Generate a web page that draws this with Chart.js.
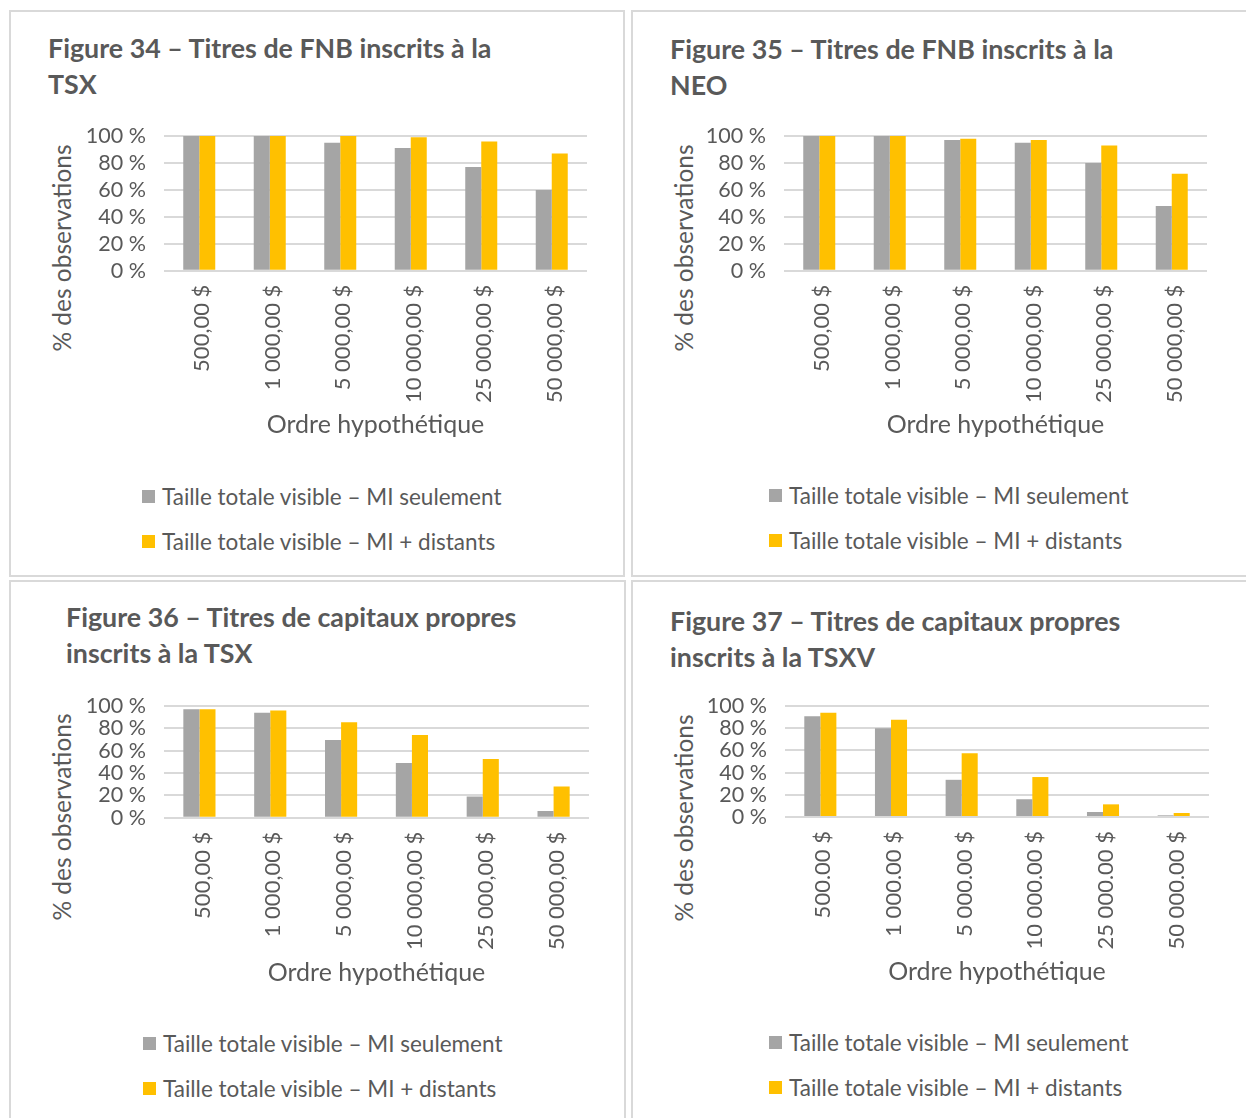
<!DOCTYPE html>
<html><head><meta charset="utf-8">
<script src="https://cdn.jsdelivr.net/npm/chart.js@4/dist/chart.umd.min.js"></script>
<style>
body{margin:0;background:#fff;width:1246px;height:1118px;overflow:hidden;position:relative;font-family:Lato,sans-serif;}
.panel{position:absolute;border:2px solid #d9d9d9;box-sizing:border-box;}
.title{position:absolute;font-weight:bold;color:#595959;font-size:26.8px;line-height:36px;white-space:nowrap;}
.leg{position:absolute;color:#595959;font-size:22.5px;white-space:nowrap;line-height:26px;height:26px;}
.leg .box{position:absolute;left:0;top:6px;width:13px;height:13px;}
.leg .txt{position:absolute;left:20px;top:0;}
.ytitle{position:absolute;color:#595959;font-size:24.5px;white-space:nowrap;line-height:30px;height:30px;width:260px;text-align:center;transform:rotate(-90deg);}
canvas{position:absolute;}
</style></head><body>
<script>
// ---- data ----
const categoriesComma = ['500,00 $','1 000,00 $','5 000,00 $','10 000,00 $','25 000,00 $','50 000,00 $'];
const categoriesDot = ['500.00 $','1 000.00 $','5 000.00 $','10 000.00 $','25 000.00 $','50 000.00 $'];
const yTickValues = [0,20,40,60,80,100];
const yTickLabels = ['0 %','20 %','40 %','60 %','80 %','100 %'];
const seriesNames = ['Taille totale visible – MI seulement','Taille totale visible – MI + distants'];
const xAxisTitle = 'Ordre hypothétique';
const yAxisTitle = '% des observations';

const fig34MiSeulement = [100,100,95,91,77,60];
const fig34MiDistants  = [100,100,100,99,96,87];
const fig35MiSeulement = [100,100,97,95,80,48];
const fig35MiDistants  = [100,100,98,97,93,72];
const fig36MiSeulement = [97,94,69.5,49,19,6];
const fig36MiDistants  = [97,96,85.5,74,52.5,28];
const fig37MiSeulement = [90.7,80,33.5,16,4.5,1.5];
const fig37MiDistants  = [94,87.7,57.5,36,11.4,3.6];

const fig34Title = ['Figure 34 – Titres de FNB inscrits à la','TSX'];
const fig35Title = ['Figure 35 – Titres de FNB inscrits à la','NEO'];
const fig36Title = ['Figure 36 – Titres de capitaux propres','inscrits à la TSX'];
const fig37Title = ['Figure 37 – Titres de capitaux propres','inscrits à la TSXV'];

// ---- styles / layout ----
const colors = ['#a5a5a5','#ffc000'];
const textColor = '#595959';
const gridColor = '#d9d9d9';

const panels = [
  {box:[9,10,616,567], title:fig34Title, tx:48, ty:48, cats:categoriesComma, a:fig34MiSeulement, b:fig34MiDistants,
   L:164,R:587,T:135.7,B:270.7, yTitleX:62, yTitleY:248, xTitleY:425, legX:142, legY:[497,542]},
  {box:[631,10,700,567], title:fig35Title, tx:670, ty:49, cats:categoriesComma, a:fig35MiSeulement, b:fig35MiDistants,
   L:784,R:1207,T:136.3,B:270.7, yTitleX:684, yTitleY:248, xTitleY:425, legX:769, legY:[496,541]},
  {box:[9,580,617,600], title:fig36Title, tx:66, ty:617, cats:categoriesComma, a:fig36MiSeulement, b:fig36MiDistants,
   L:164,R:589,T:706.3,B:817.7, yTitleX:62, yTitleY:817, xTitleY:973, legX:143, legY:[1044,1089]},
  {box:[631,580,700,600], title:fig37Title, tx:670, ty:621, cats:categoriesDot, a:fig37MiSeulement, b:fig37MiDistants,
   L:785,R:1209,T:706.3,B:817, yTitleX:684, yTitleY:818, xTitleY:972, legX:769, legY:[1043,1088]},
];

const yTickFont = {family:'Lato', size:21.5};
const xTickFont = {family:'Lato', size:22};
const axisTitleFont = {family:'Lato', size:25};

function el(tag, cls, css){const e=document.createElement(tag); if(cls) e.className=cls; Object.assign(e.style, css||{}); document.body.appendChild(e); return e;}

panels.forEach(p=>{
  el('div','panel',{left:p.box[0]+'px',top:p.box[1]+'px',width:p.box[2]+'px',height:p.box[3]+'px'});
  const t = el('div','title',{left:p.tx+'px',top:(p.ty-18)+'px'});
  t.innerHTML = p.title.join('<br>');
  // y axis title
  const yt = el('div','ytitle',{left:(p.yTitleX-130)+'px',top:(p.yTitleY-15)+'px'});
  yt.textContent = yAxisTitle;
  // legend
  seriesNames.forEach((name,i)=>{
    const d = el('div','leg',{left:p.legX+'px',top:(p.legY[i]-13)+'px'});
    const bx = document.createElement('span'); bx.className='box'; bx.style.background=colors[i]; d.appendChild(bx);
    const tx = document.createElement('span'); tx.className='txt'; tx.textContent=name; d.appendChild(tx);
  });
  // canvas geometry
  const half = axisTitleFont.size*1.2/2;
  const padTop = 34;
  const cl = p.L - 130, ct = p.T - padTop, cr = p.R + 10, cb = p.xTitleY + 18;
  const w = Math.round(cr-cl), h = Math.round(cb-ct);
  const cv = el('canvas',null,{left:cl+'px',top:ct+'px',width:w+'px',height:h+'px'});
  cv.width = w; cv.height = h;
  const yW = p.L - cl, xH = cb - p.B;
  new Chart(cv, {
    type:'bar',
    data:{labels:p.cats, datasets:[
      {label:seriesNames[0], data:p.a, backgroundColor:colors[0]},
      {label:seriesNames[1], data:p.b, backgroundColor:colors[1]}
    ]},
    options:{
      responsive:false, animation:false, devicePixelRatio:1,
      layout:{padding:{top:padTop,right:10,left:0,bottom:0}},
      datasets:{bar:{categoryPercentage:0.454,barPercentage:1.0}},
      plugins:{legend:{display:false},tooltip:{enabled:false},title:{display:false}},
      scales:{
        x:{
          grid:{display:false,drawTicks:false}, border:{display:false},
          ticks:{color:textColor,font:xTickFont,minRotation:90,maxRotation:90,autoSkip:false,padding:14,labelOffset:3},
          title:{display:true,text:xAxisTitle,color:textColor,font:axisTitleFont,padding:{top:0,bottom:18-half}},
          afterFit:(s)=>{s.height = xH;}
        },
        y:{
          min:0,max:100,
          afterBuildTicks:(s)=>{s.ticks = yTickValues.map(v=>({value:v}));},
          grid:{color:gridColor,lineWidth:2,drawTicks:false}, border:{display:false},
          ticks:{color:textColor,font:yTickFont,padding:18,autoSkip:false,callback:(v)=>yTickLabels[yTickValues.indexOf(v)]},
          title:{display:false},
          afterFit:(s)=>{s.width = yW;}
        }
      }
    }
  });
});
</script>
</body></html>
